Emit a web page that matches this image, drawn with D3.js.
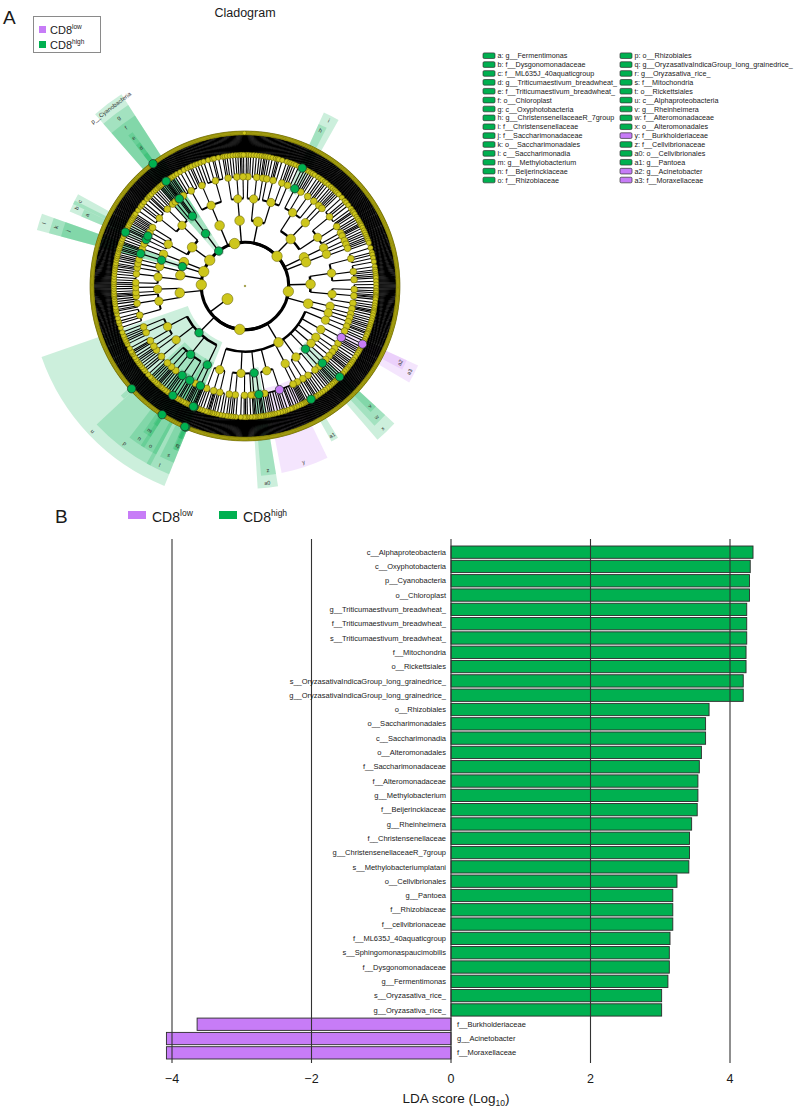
<!DOCTYPE html>
<html>
<head>
<meta charset="utf-8">
<script src="https://cdn.jsdelivr.net/npm/d3@7"></script>
<style>
  body { margin: 0; background: #fff; }
  text { font-family: "Liberation Sans", Arial, Helvetica, sans-serif; fill: #1a1a1a; }
</style>
</head>
<body>
<svg id="fig" width="795" height="1111"></svg>
<script>
// ---------------- data ----------------
// LDA bar chart (panel B), top to bottom
var featureNames = [
  "c__Alphaproteobacteria", "c__Oxyphotobacteria", "p__Cyanobacteria", "o__Chloroplast",
  "g__Triticumaestivum_breadwheat_", "f__Triticumaestivum_breadwheat_", "s__Triticumaestivum_breadwheat_",
  "f__Mitochondria", "o__Rickettsiales",
  "s__OryzasativaIndicaGroup_long_grainedrice_", "g__OryzasativaIndicaGroup_long_grainedrice_",
  "o__Rhizobiales", "o__Saccharimonadales", "c__Saccharimonadia", "o__Alteromonadales",
  "f__Saccharimonadaceae", "f__Alteromonadaceae", "g__Methylobacterium", "f__Beijerinckiaceae",
  "g__Rheinheimera", "f__Christensenellaceae", "g__ChristensenellaceaeR_7group",
  "s__Methylobacteriumplatani", "o__Cellvibrionales", "g__Pantoea", "f__Rhizobiaceae",
  "f__cellvibrionaceae", "f__ML635J_40aquaticgroup", "s__Sphingomonaspaucimobilis",
  "f__Dysgonomonadaceae", "g__Fermentimonas", "s__Oryzasativa_rice_", "g__Oryzasativa_rice_",
  "f__Burkholderiaceae", "g__Acinetobacter", "f__Moraxellaceae"
];
var ldaScores = [
  4.33, 4.29, 4.28, 4.28,
  4.24, 4.24, 4.24,
  4.23, 4.23,
  4.19, 4.19,
  3.70, 3.65, 3.65, 3.59,
  3.56, 3.54, 3.54, 3.53,
  3.45, 3.42, 3.42,
  3.41, 3.24, 3.18, 3.18,
  3.18, 3.14, 3.13,
  3.13, 3.11, 3.02, 3.02,
  -3.64, -4.08, -4.08
];
var xTicks = [-4, -2, 0, 2, 4];

var groups = ["low", "high"];
var groupColors = ["#c77cf7", "#00b050"];

// cladogram key (letter -> clade)
var legendLetters = ["a", "b", "c", "d", "e", "f", "g", "h", "i", "j", "k", "l", "m", "n", "o",
  "p", "q", "r", "s", "t", "u", "v", "w", "x", "y", "z", "a0", "a1", "a2", "a3"];
var legendNames = [
  "g__Fermentimonas", "f__Dysgonomonadaceae", "f__ML635J_40aquaticgroup",
  "g__Triticumaestivum_breadwheat_", "f__Triticumaestivum_breadwheat_", "o__Chloroplast",
  "c__Oxyphotobacteria", "g__ChristensenellaceaeR_7group", "f__Christensenellaceae",
  "f__Saccharimonadaceae", "o__Saccharimonadales", "c__Saccharimonadia",
  "g__Methylobacterium", "f__Beijerinckiaceae", "f__Rhizobiaceae",
  "o__Rhizobiales", "g__OryzasativaIndicaGroup_long_grainedrice_", "g__Oryzasativa_rice_",
  "f__Mitochondria", "o__Rickettsiales", "c__Alphaproteobacteria",
  "g__Rheinheimera", "f__Alteromonadaceae", "o__Alteromonadales",
  "f__Burkholderiaceae", "f__Cellvibrionaceae", "o__Cellvibrionales",
  "g__Pantoea", "g__Acinetobacter", "f__Moraxellaceae"
];

// unnamed orders: species per genus, grouped by family
var orderShapes = [
  [[4, 2, 6, 3, 5], [1, 3, 4, 2], [5, 2, 8, 1, 3, 6]],
  [[3, 1, 4], [2, 4, 2, 3, 2], [1, 3]],
  [[6, 3, 2, 5, 4], [2, 1, 4, 3, 2], [3, 2]],
  [[2, 4], [3, 1, 2, 5], [5, 1, 3], [2, 3, 4]],
  [[8, 2, 3, 4], [4, 6, 1, 3, 2], [2, 2, 5]],
  [[1, 2, 3], [3, 2]],
  [[2, 5, 1, 3, 2], [1, 1, 3], [4, 2, 3, 2]],
  [[3, 2], [2, 2, 3]]
];

// taxonomy round the ring, clockwise from 12 o'clock
// number in an order list = unnamed order shape; number array = unnamed family; number in a family = genus size
var phyla = [
  ["p__Firmicutes", [
    ["c__Bacilli", [1, 3]],
    ["c__Clostridia", [
      ["o__Clostridiales", [
        ["f__Christensenellaceae", [["g__ChristensenellaceaeR_7group", 4], 2, 3]],
        [2, 3, 1, 4], [4, 2, 3], [3, 1, 5, 2]
      ]],
      7, 2
    ]],
    ["c__Negativicutes", [5]],
    ["c__Erysipelotrichia", [7]]
  ]],
  ["p__Actinobacteria", [
    ["c__Actinobacteria", [4, 6]],
    ["c__Thermoleophilia", [5, 7]]
  ]],
  ["p__Proteobacteria", [
    ["c__Gammaproteobacteria", [
      5,
      ["o__Pseudomonadales", [["f__Moraxellaceae", [["g__Acinetobacter", 5], 2, 3, 1]], [3, 2, 4]]],
      7, 5,
      ["o__Alteromonadales", [["f__Alteromonadaceae", [["g__Rheinheimera", 3], 2, 3]], [1, 2, 2]]],
      1,
      ["o__Enterobacteriales", [["f__Enterobacteriaceae", [["g__Pantoea", 3], 3, 2, 1]], [2, 1, 2]]],
      ["o__Betaproteobacteriales", [["f__Burkholderiaceae", [3, 2, 4, 1, 2, 5, 1, 3, 2, 4, 3, 2]], [2, 2, 3]]],
      ["o__Cellvibrionales", [["f__Cellvibrionaceae", [2, 1, 2, 3]], [2, 1]]],
      3, 6
    ]],
    ["c__Alphaproteobacteria", [
      ["o__Rickettsiales", [
        ["f__Mitochondria", [
          ["g__OryzasativaIndicaGroup_long_grainedrice_", ["s__OryzasativaIndicaGroup_long_grainedrice_"]],
          ["g__Oryzasativa_rice_", ["s__Oryzasativa_rice_"]],
          2, 3, 1
        ]],
        [2, 1, 3]
      ]],
      ["o__Rhizobiales", [
        ["f__Rhizobiaceae", [3, 2, 1, 4]],
        ["f__Beijerinckiaceae", [["g__Methylobacterium", ["s__Methylobacteriumplatani", 3]], 2, 3, 1]],
        [4, 2, 3, 2], [1, 2, 3], [2, 3, 1]
      ]],
      ["o__Sphingomonadales", [
        ["f__Sphingomonadaceae", [["g__Sphingomonas", [3, "s__Sphingomonaspaucimobilis", 2]], 3, 2, 4]],
        [2, 3, 2]
      ]],
      3
    ]]
  ]],
  ["p__Chloroflexi", [
    ["c__Anaerolineae", [2, 5]],
    ["c__Chloroflexia", [1, 7]]
  ]],
  ["p__Patescibacteria", [
    ["c__Saccharimonadia", [["o__Saccharimonadales", [["f__Saccharimonadaceae", [2, 1, 3, 2]]]]]],
    ["c__Parcubacteria", [5]]
  ]],
  ["p__Bacteroidetes", [
    ["c__Bacteroidia", [
      ["o__Bacteroidales", [
        ["f__Dysgonomonadaceae", [["g__Fermentimonas", 3], 2, 1]],
        ["f__ML635J_40aquaticgroup", [3, 2]],
        [3, 1, 2], [2, 2, 1, 3]
      ]],
      2
    ]]
  ]],
  ["p__Cyanobacteria", [
    ["c__Oxyphotobacteria", [
      ["o__Chloroplast", [
        [1, 2, 2], [2, 1],
        ["f__Triticumaestivum_breadwheat_", [["g__Triticumaestivum_breadwheat_", ["s__Triticumaestivum_breadwheat_"]]]],
        [1, 2], [2, 2, 1]
      ]]
    ]]
  ]],
  ["p__Acidobacteria", [
    ["c__Acidobacteriia", [0]],
    ["c__Blastocatellia", [1]]
  ]]
];

// ---------------- helpers ----------------
function leavesOf(n) {
  return d3.range(n).map(function() { return {name: ""}; });
}

// depth: 2 phylum, 3 class, 4 order, 5 family, 6 genus, 7 species
function build(spec, depth) {
  if (typeof spec === "string") return {name: spec};
  var name = "", kids;
  if (typeof spec === "number") {
    kids = depth === 4 ? orderShapes[spec] : spec;
  } else if (typeof spec[0] === "string") {
    name = spec[0]; kids = spec[1];
  } else {
    kids = spec;
  }
  var node = {name: name};
  if (typeof kids === "number") {
    node.children = leavesOf(kids);
  } else {
    node.children = kids.reduce(function(acc, k) {
      if (depth === 6 && typeof k === "number") return acc.concat(leavesOf(k));
      return acc.concat([build(k, depth + 1)]);
    }, []);
  }
  return node;
}

var featureGroup = new Map();
featureNames.forEach(function(n, i) {
  featureGroup.set(n.toLowerCase(), ldaScores[i] < 0 ? 0 : 1);
});
var letterOf = new Map();
legendNames.forEach(function(n, i) { letterOf.set(n.toLowerCase(), legendLetters[i]); });

var svg = d3.select("#fig");
svg.append("rect").attr("width", 795).attr("height", 1111).attr("fill", "#fff");

// ---------------- panel A ----------------
svg.append("text").attr("x", 3).attr("y", 24).attr("font-size", 19).text("A");
svg.append("text").attr("x", 245).attr("y", 17).attr("text-anchor", "middle")
  .attr("font-size", 12.5).text("Cladogram");

var legA = svg.append("g");
legA.append("rect").attr("x", 33.5).attr("y", 16.5).attr("width", 67).attr("height", 36)
  .attr("fill", "#fff").attr("stroke", "#8a8a8a");
groups.forEach(function(g, i) {
  var yy = 26 + i * 15;
  legA.append("rect").attr("x", 39).attr("y", yy).attr("width", 7).attr("height", 7)
    .attr("fill", groupColors[i]);
  var t = legA.append("text").attr("x", 50).attr("y", yy + 7.5).attr("font-size", 11);
  t.append("tspan").text("CD8");
  t.append("tspan").attr("font-size", 6.5).attr("dy", -5).text(g);
});

var cx = 245, cy = 286;
var rad = Math.PI / 180;
var rLevel = d3.scaleLinear().domain([0, 7]).range([0, 153]);

var root = d3.hierarchy({
  name: "Root",
  children: [{name: "k__Bacteria", children: phyla.map(function(p) { return build(p, 2); })}]
});
d3.cluster().size([360, 1]).separation(function() { return 1; })(root);
var nLeaves = root.leaves().length;
var step = 360 / nLeaves;

function px(a, r) { return r * Math.sin(a * rad); }
function py(a, r) { return -r * Math.cos(a * rad); }
function arcPath(r, a0, a1) {
  var p = d3.path(), s = (a0 - 90) * rad, e = (a1 - 90) * rad;
  p.moveTo(r * Math.cos(s), r * Math.sin(s));
  p.arc(0, 0, r, s, e);
  return p.toString();
}

var clado = svg.append("g").attr("transform", "translate(" + cx + "," + cy + ")");

// highlighted clades
var marked = root.descendants().filter(function(d) {
  return d.depth > 1 && featureGroup.has(d.data.name.toLowerCase());
}).sort(function(a, b) { return a.depth - b.depth; });

var sectorArc = d3.arc();
function outerR(d) { return 153 + 12.5 * (8 - d.depth); }
function span(d) {
  var lv = d.leaves();
  return [d3.min(lv, function(l) { return l.x; }) - step / 2 - 0.6,
          d3.max(lv, function(l) { return l.x; }) + step / 2 + 0.6];
}

clado.append("g").selectAll("path")
  .data(marked)
  .join("path")
    .attr("d", function(d) {
      var s = span(d);
      return sectorArc({innerRadius: rLevel(d.depth) - 5, outerRadius: outerR(d),
                        startAngle: s[0] * rad, endAngle: s[1] * rad});
    })
    .attr("fill", function(d) { return groupColors[featureGroup.get(d.data.name.toLowerCase())]; })
    .attr("fill-opacity", 0.2);

// branches
var arcW = {2: 3, 3: 2.5, 4: 2, 5: 1.5, 6: 1.2};
var lineW = {3: 1.4, 4: 1.25, 5: 1.1, 6: 1.1, 7: 1.35};
var links = clado.append("g").attr("stroke", "#000").attr("fill", "none");
var kingdom = root.children[0];
links.append("circle").attr("r", rLevel(2)).attr("stroke-width", 3);
links.append("line")
  .attr("x1", px(kingdom.x, rLevel(1))).attr("y1", py(kingdom.x, rLevel(1)))
  .attr("x2", px(kingdom.x, rLevel(2))).attr("y2", py(kingdom.x, rLevel(2)))
  .attr("stroke-width", 1.5);

var inner = root.descendants().filter(function(d) { return d.depth >= 2 && d.children; });
links.selectAll("path.arc")
  .data(inner)
  .join("path")
    .attr("class", "arc")
    .attr("d", function(d) {
      var ext = d3.extent(d.children, function(c) { return c.x; });
      return arcPath(rLevel(d.depth), ext[0], ext[1]);
    })
    .attr("stroke-width", function(d) { return arcW[d.depth]; });

links.selectAll("line.br")
  .data(root.descendants().filter(function(d) { return d.depth >= 3; }))
  .join("line")
    .attr("class", "br")
    .attr("x1", function(d) { return px(d.x, rLevel(d.depth - 1)); })
    .attr("y1", function(d) { return py(d.x, rLevel(d.depth - 1)); })
    .attr("x2", function(d) { return px(d.x, rLevel(d.depth)); })
    .attr("y2", function(d) { return py(d.x, rLevel(d.depth)); })
    .attr("stroke-width", function(d) { return lineW[d.depth]; });

// nodes
var nodeR = [0.8, 5.5, 5.2, 4.8, 4.2, 3.4, 2.6, 2.0];
var plain = root.descendants().filter(function(d) {
  return d.depth === 0 || !featureGroup.has(d.data.name.toLowerCase());
}).sort(function(a, b) { return b.depth - a.depth; });
clado.append("g").selectAll("circle")
  .data(plain)
  .join("circle")
    .attr("cx", function(d) { return px(d.x, rLevel(d.depth)); })
    .attr("cy", function(d) { return py(d.x, rLevel(d.depth)); })
    .attr("r", function(d) { return nodeR[d.depth]; })
    .attr("fill", "#cdc61c")
    .attr("stroke", "#5c5800")
    .attr("stroke-width", 0.5);

clado.append("g").selectAll("circle")
  .data(marked)
  .join("circle")
    .attr("cx", function(d) { return px(d.x, rLevel(d.depth)); })
    .attr("cy", function(d) { return py(d.x, rLevel(d.depth)); })
    .attr("r", 4.2)
    .attr("fill", function(d) { return groupColors[featureGroup.get(d.data.name.toLowerCase())]; })
    .attr("stroke", "#1f2f25")
    .attr("stroke-width", 0.7);

// sector labels
clado.append("g").selectAll("text")
  .data(marked.filter(function(d) {
    var n = d.data.name.toLowerCase();
    return letterOf.has(n) || d.depth === 2;
  }))
  .join("text")
    .attr("transform", function(d) {
      var s = span(d), a = (s[0] + s[1]) / 2, r = outerR(d) - 5;
      var rot = (a > 90 && a < 270) ? a - 180 : a;
      return "translate(" + px(a, r) + "," + py(a, r) + ") rotate(" + rot + ")";
    })
    .attr("text-anchor", "middle")
    .attr("dy", "0.35em")
    .attr("font-size", function(d) { return d.depth === 2 ? 6 : 5.5; })
    .style("fill", "#333")
    .text(function(d) {
      var n = d.data.name.toLowerCase();
      return letterOf.has(n) ? letterOf.get(n) : d.data.name;
    });

// key on the right
var key = svg.append("g").attr("font-size", 7.2);
var keyRows = 15;
legendNames.forEach(function(n, i) {
  var col = Math.floor(i / keyRows), row = i % keyRows;
  var x0 = col === 0 ? 483 : 620, yc = 55.7 + row * 8.88;
  key.append("rect").attr("x", x0).attr("y", yc - 2.8).attr("width", 12).attr("height", 5.6)
    .attr("rx", 1.2)
    .attr("fill", groupColors[featureGroup.get(n.toLowerCase())])
    .attr("stroke", "#333").attr("stroke-width", 0.7);
  key.append("text").attr("x", x0 + 14.5).attr("y", yc).attr("dy", "0.35em")
    .text(legendLetters[i] + ": " + n);
});

// ---------------- panel B ----------------
svg.append("text").attr("x", 55).attr("y", 523).attr("font-size", 19).text("B");
groups.forEach(function(g, i) {
  var x0 = i === 0 ? 128 : 219;
  svg.append("rect").attr("x", x0).attr("y", 511).attr("width", 18).attr("height", 8)
    .attr("fill", groupColors[i]);
  var t = svg.append("text").attr("x", x0 + 24).attr("y", 522).attr("font-size", 14);
  t.append("tspan").text("CD8");
  t.append("tspan").attr("font-size", 8.5).attr("dy", -6.5).text(g);
});

var x = d3.scaleLinear().domain([-4, 4]).range([172, 730]);
var y = d3.scaleBand().domain(featureNames).range([546, 1059]).paddingInner(0.14);
var bars = featureNames.map(function(n, i) { return {name: n, v: ldaScores[i]}; });

svg.append("g").selectAll("rect")
  .data(bars)
  .join("rect")
    .attr("x", function(d) { return x(Math.min(0, d.v)); })
    .attr("y", function(d) { return y(d.name); })
    .attr("width", function(d) { return Math.abs(x(d.v) - x(0)); })
    .attr("height", y.bandwidth())
    .attr("fill", function(d) { return groupColors[d.v < 0 ? 0 : 1]; })
    .attr("stroke", "#2b2b2b")
    .attr("stroke-width", 0.9);

svg.append("g").selectAll("line")
  .data(xTicks)
  .join("line")
    .attr("x1", function(d) { return x(d); }).attr("x2", function(d) { return x(d); })
    .attr("y1", 539).attr("y2", 1063)
    .attr("stroke", "#333").attr("stroke-width", 1.1);

svg.append("g").attr("font-size", 7.5).selectAll("text")
  .data(bars)
  .join("text")
    .attr("x", function(d) { return d.v < 0 ? x(0) + 6 : x(0) - 5; })
    .attr("y", function(d) { return y(d.name) + y.bandwidth() / 2; })
    .attr("dy", "0.35em")
    .attr("text-anchor", function(d) { return d.v < 0 ? "start" : "end"; })
    .text(function(d) { return d.name; });

var fmt = d3.format("d");
svg.append("g").attr("font-size", 12.5).selectAll("text")
  .data(xTicks)
  .join("text")
    .attr("x", function(d) { return x(d); })
    .attr("y", 1083)
    .attr("text-anchor", "middle")
    .text(function(d) { return fmt(d); });

var title = svg.append("text").attr("x", x(0) + 5).attr("y", 1103)
  .attr("text-anchor", "middle").attr("font-size", 13.5);
title.append("tspan").text("LDA score (Log");
title.append("tspan").attr("font-size", 8.5).attr("dy", 3).text("10");
title.append("tspan").attr("dy", -3).text(")");
</script>
</body>
</html>
